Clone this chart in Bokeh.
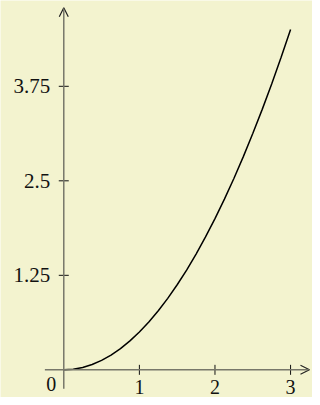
import math
from bokeh.plotting import figure
from bokeh.models import Range1d, Arrow, OpenHead
from bokeh.core.properties import value
from bokeh.embed import file_html
from bokeh.resources import INLINE

# Curve values
x_vals = [0, 0.125, 0.25, 0.375, 0.5, 0.625, 0.75, 0.875, 1.0, 1.125, 1.25, 1.375,
          1.5, 1.625, 1.75, 1.875, 2.0, 2.125, 2.25, 2.375, 2.5, 2.625, 2.75, 2.875, 3.0]
y_vals = [0, 0.008, 0.031, 0.07, 0.125, 0.195, 0.281, 0.383, 0.5, 0.633, 0.781, 0.945,
          1.125, 1.32, 1.531, 1.758, 2.0, 2.258, 2.531, 2.82, 3.125, 3.445, 3.781, 4.133, 4.5]

# Ticks
x_ticks = [1, 2, 3]
x_tick_labels = ["1", "2", "3"]
y_ticks = [1.25, 2.5, 3.75]
y_tick_labels = ["1.25", "2.5", "3.75"]

BG = "#f3f3cf"
AXIS = "#77776a"
FONT = value("Liberation Serif")

p = figure(width=312, height=397, output_backend="svg", toolbar_location=None,
           x_range=Range1d(-0.837, 3.29), y_range=Range1d(-0.366, 4.885),
           x_axis_type=None, y_axis_type=None, min_border=0)
p.background_fill_color = BG
p.border_fill_color = BG
p.outline_line_color = None
p.xgrid.visible = False
p.ygrid.visible = False

# axes with arrow heads
p.add_layout(Arrow(end=OpenHead(size=9, line_color="#222222", line_width=1.2),
                   x_start=-0.25, y_start=0, x_end=3.25, y_end=0,
                   line_color=AXIS, line_width=1.5))
p.add_layout(Arrow(end=OpenHead(size=9, line_color="#222222", line_width=1.2),
                   x_start=0, y_start=-0.25, x_end=0, y_end=4.79,
                   line_color=AXIS, line_width=1.5))

# tick marks
p.scatter(x=x_ticks, y=[0] * len(x_ticks), marker="dash", size=10, angle=math.pi / 2,
          line_color="#111111", line_width=1)
p.scatter(x=[0] * len(y_ticks), y=y_ticks, marker="dash", size=10,
          line_color="#111111", line_width=1)

# tick labels
p.text(x=x_ticks, y=[0] * len(x_ticks), text=x_tick_labels, text_align="center",
       text_baseline="middle", y_offset=17, text_font=FONT, text_font_size="20px",
       text_color="#111111")
p.text(x=[0] * len(y_ticks), y=y_ticks, text=y_tick_labels, text_align="right",
       text_baseline="middle", x_offset=-13.5, text_font=FONT, text_font_size="21px",
       text_color="#111111")
p.text(x=[0], y=[0], text=["0"], text_align="center", text_baseline="middle",
       x_offset=-12.5, y_offset=14, text_font=FONT, text_font_size="20px",
       text_color="#111111")

# curve
p.line(x=x_vals, y=y_vals, line_color="black", line_width=1.5)

open("out.html", "w").write(file_html(p, INLINE))
